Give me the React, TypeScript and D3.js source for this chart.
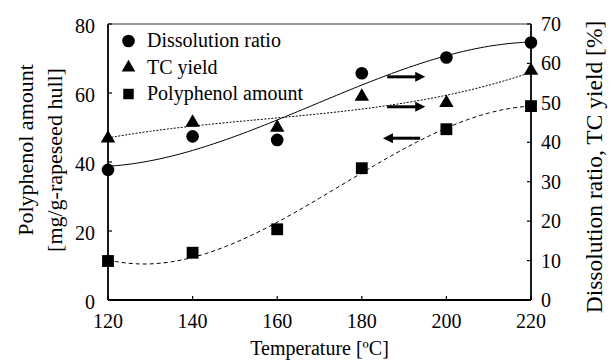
import React, { useEffect, useRef } from "react";
import * as d3 from "d3";

const temperatures = [120, 140, 160, 180, 200, 220];
const dissolutionRatio = [33.0, 41.5, 40.6, 57.5, 61.5, 65.3];
const tcYield = [41.0, 45.0, 43.7, 51.6, 50.0, 58.2];
const polyphenolAmount = [11.3, 13.7, 20.5, 38.2, 49.5, 56.2];

const xTicks = [120, 140, 160, 180, 200, 220];
const leftTicks = [0, 20, 40, 60, 80];
const rightTicks = [0, 10, 20, 30, 40, 50, 60, 70];

const legendNames = ["Dissolution ratio", "TC yield", "Polyphenol amount"];

// arrows: [x from, x to, value, axis]
const arrows: [number, number, number, string][] = [
  [186, 195, 56.6, "right"],
  [186, 195, 49.0, "right"],
  [193.8, 185, 46.9, "left"],
];

const FONT = "'Liberation Serif', 'Times New Roman', 'DejaVu Serif', serif";

// least squares cubic (like Excel's polynomial trendline, order 3)
function cubicFit(xs: number[], ys: number[]) {
  const t = xs.map((x) => (x - 170) / 50);
  const n = 4;
  const A: number[][] = [];
  for (let i = 0; i < n; i++) {
    A.push([]);
    for (let j = 0; j <= n; j++) A[i].push(0);
  }
  t.forEach((ti, k) => {
    for (let i = 0; i < n; i++) {
      for (let j = 0; j < n; j++) A[i][j] += Math.pow(ti, i + j);
      A[i][n] += Math.pow(ti, i) * ys[k];
    }
  });
  for (let i = 0; i < n; i++) {
    let p = i;
    for (let r = i + 1; r < n; r++) if (Math.abs(A[r][i]) > Math.abs(A[p][i])) p = r;
    [A[i], A[p]] = [A[p], A[i]];
    for (let r = 0; r < n; r++) {
      if (r === i) continue;
      const f = A[r][i] / A[i][i];
      for (let c = i; c <= n; c++) A[r][c] -= f * A[i][c];
    }
  }
  const coef = A.map((row, i) => row[n] / row[i]);
  return (x: number) => {
    const u = (x - 170) / 50;
    return coef[0] + coef[1] * u + coef[2] * u * u + coef[3] * u * u * u;
  };
}

export default function App() {
  const ref = useRef<SVGSVGElement>(null);

  useEffect(() => {
    const width = 611,
      height = 361;
    const margin = { left: 108, right: 80, top: 24, bottom: 61 };

    const svg = d3.select(ref.current);
    svg.selectAll("*").remove();

    var x = d3
      .scaleLinear()
      .domain([120, 220])
      .range([margin.left, width - margin.right]);
    var yLeft = d3
      .scaleLinear()
      .domain([0, 80])
      .range([height - margin.bottom, margin.top]);
    var yRight = d3
      .scaleLinear()
      .domain([0, 70])
      .range([height - margin.bottom, margin.top]);

    const x0 = x(120),
      x1 = x(220),
      yb = yLeft(0),
      yt = yLeft(80);

    // top border
    svg
      .append("line")
      .attr("x1", x0)
      .attr("x2", x1)
      .attr("y1", yt)
      .attr("y2", yt)
      .attr("stroke", "#333")
      .attr("stroke-width", 1);

    // axes
    const axisG = svg.append("g").attr("stroke", "#000").attr("stroke-width", 1.8);
    axisG.append("line").attr("x1", x0).attr("x2", x1).attr("y1", yb).attr("y2", yb);
    axisG.append("line").attr("x1", x0).attr("x2", x0).attr("y1", yb).attr("y2", yt);
    axisG.append("line").attr("x1", x1).attr("x2", x1).attr("y1", yb).attr("y2", yt);

    const tickG = svg.append("g").attr("stroke", "#000").attr("stroke-width", 1.2);
    xTicks.forEach((t) => {
      tickG.append("line").attr("x1", x(t)).attr("x2", x(t)).attr("y1", yb).attr("y2", yb - 4);
    });
    leftTicks.forEach((t) => {
      tickG.append("line").attr("x1", x0).attr("x2", x0 + 4).attr("y1", yLeft(t)).attr("y2", yLeft(t));
    });
    rightTicks.forEach((t) => {
      tickG.append("line").attr("x1", x1).attr("x2", x1 - 4).attr("y1", yRight(t)).attr("y2", yRight(t));
    });

    const labels = svg.append("g").style("font-family", FONT).style("font-size", "20px").attr("fill", "#000");
    xTicks.forEach((t) => {
      labels.append("text").attr("x", x(t)).attr("y", yb + 28).attr("text-anchor", "middle").text(t);
    });
    leftTicks.forEach((t) => {
      labels
        .append("text")
        .attr("x", x0 - 13)
        .attr("y", yLeft(t) + 9)
        .attr("text-anchor", "end")
        .text(t);
    });
    rightTicks.forEach((t) => {
      labels
        .append("text")
        .attr("x", x1 + 10)
        .attr("y", yRight(t) + 7)
        .attr("text-anchor", "start")
        .text(t);
    });

    // axis titles
    const cy = (yb + yt) / 2;
    labels
      .append("text")
      .attr("x", (x0 + x1) / 2)
      .attr("y", 355)
      .attr("text-anchor", "middle")
      .style("font-size", "20px")
      .text("Temperature [ºC]");
    labels
      .append("text")
      .attr("transform", "translate(33," + (cy - 12) + ") rotate(-90)")
      .attr("text-anchor", "middle")
      .style("font-size", "22px")
      .text("Polyphenol amount");
    labels
      .append("text")
      .attr("transform", "translate(62," + (cy - 2) + ") rotate(-90)")
      .attr("text-anchor", "middle")
      .style("font-size", "22px")
      .text("[mg/g-rapeseed hull]");
    labels
      .append("text")
      .attr("transform", "translate(602," + (cy + 5) + ") rotate(-90)")
      .attr("text-anchor", "middle")
      .style("font-size", "23.5px")
      .text("Dissolution ratio, TC yield [%]");

    // trendlines
    const xs = d3.range(120, 220.01, 1);
    const series = [
      { ys: dissolutionRatio, scale: yRight, dash: null },
      { ys: tcYield, scale: yRight, dash: "2,1.5" },
      { ys: polyphenolAmount, scale: yLeft, dash: "4,3" },
    ];
    series.forEach((s) => {
      const f = cubicFit(temperatures, s.ys);
      const line = d3
        .line<number>()
        .x((d) => x(d))
        .y((d) => s.scale(f(d)));
      svg
        .append("path")
        .attr("d", line(xs))
        .attr("fill", "none")
        .attr("stroke", "#000")
        .attr("stroke-width", 1)
        .attr("stroke-dasharray", s.dash);
    });

    // markers
    const circle = d3.symbol().type(d3.symbolCircle).size(125);
    const tri = d3.symbol().type(d3.symbolTriangle).size(90);
    const sq = d3.symbol().type(d3.symbolSquare).size(140);
    temperatures.forEach((t, i) => {
      svg
        .append("path")
        .attr("d", circle())
        .attr("transform", "translate(" + x(t) + "," + yRight(dissolutionRatio[i]) + ")");
      svg
        .append("path")
        .attr("d", tri())
        .attr("transform", "translate(" + x(t) + "," + yRight(tcYield[i]) + ")");
      svg
        .append("path")
        .attr("d", sq())
        .attr("transform", "translate(" + x(t) + "," + yLeft(polyphenolAmount[i]) + ")");
    });

    // legend
    const legend = svg.append("g").style("font-family", FONT).style("font-size", "20px");
    const shapes = [circle, d3.symbol().type(d3.symbolTriangle).size(80), d3.symbol().type(d3.symbolSquare).size(110)];
    legendNames.forEach((name, i) => {
      const ly = 41 + i * 26.5;
      legend
        .append("path")
        .attr("d", shapes[i]())
        .attr("transform", "translate(128.5," + ly + ")");
      legend
        .append("text")
        .attr("x", 147)
        .attr("y", ly + 6)
        .text(name);
    });

    // arrows
    arrows.forEach(([a, b, v, axis]) => {
      const yy = axis === "right" ? yRight(v) : yLeft(v);
      const xa = x(a),
        xb = x(b);
      const dir = xb > xa ? 1 : -1;
      svg
        .append("line")
        .attr("x1", xa)
        .attr("x2", xb - dir * 8)
        .attr("y1", yy)
        .attr("y2", yy)
        .attr("stroke", "#000")
        .attr("stroke-width", 3);
      svg
        .append("path")
        .attr(
          "d",
          "M" + xb + "," + yy + "L" + (xb - dir * 10) + "," + (yy - 5) + "L" + (xb - dir * 10) + "," + (yy + 5) + "Z"
        )
        .attr("fill", "#000");
    });
  }, []);

  return (
    <svg
      ref={ref}
      width={611}
      height={361}
      style={{ position: "absolute", left: 0, top: 0, background: "#fff" }}
    ></svg>
  );
}
